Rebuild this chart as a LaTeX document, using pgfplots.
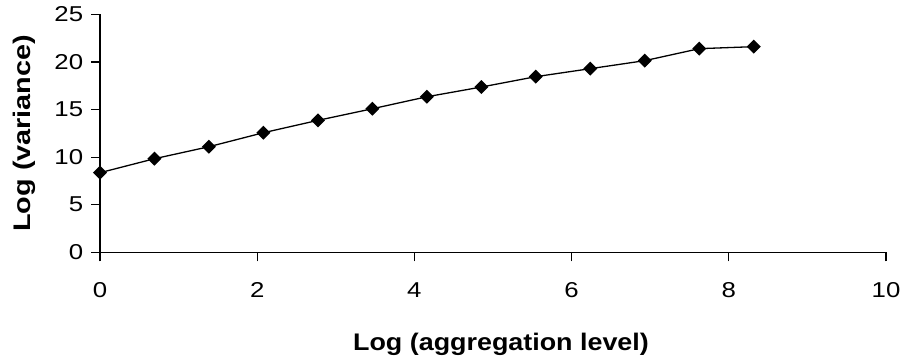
\documentclass[border=0pt]{standalone}
\usepackage{fontspec}
\setmainfont{Liberation Sans}
\usepackage{pgfplots}
\pgfplotsset{compat=1.18}
\begin{document}
\begin{tikzpicture}
\useasboundingbox (-100bp,-103.7bp) rectangle (805bp,252.3bp);
\begin{axis}[
  at={(0,0)}, anchor=south west,
  scale only axis,
  width=786bp, height=238bp,
  xmin=0, xmax=10, ymin=0, ymax=25,
  xtick={0,2,...,10}, ytick={0,5,...,25},
  axis x line*=bottom, axis y line*=left,
  axis line style={line width=1.2bp, -},
  tick style={line width=1.2bp, black},
  tick align=outside,
  major tick length=9bp,
  /pgf/number format/assume math mode=true,
  ticklabel style={font=\fontsize{21.5bp}{24bp}\selectfont, xscale=1.2},
  xticklabel style={yshift=-18bp},
  yticklabel style={xshift=-3bp},
  xlabel={\textbf{Log (aggregation level)}},
  ylabel={\textbf{Log (variance)}},
  label style={font=\fontsize{24bp}{26bp}\selectfont},
  xlabel style={yshift=-28bp, xshift=8bp, xscale=1.12},
  ylabel style={yshift=11bp, xscale=1.2},
]
\addplot[black, line width=1.3bp, mark=square*, mark size=4.3bp, mark options={solid, fill=black, rotate=45}]
coordinates {
(0.000,8.36) (0.693,9.83) (1.386,11.09) (2.079,12.56) (2.773,13.86)
(3.466,15.08) (4.159,16.34) (4.852,17.36) (5.545,18.45) (6.238,19.29)
(6.931,20.13) (7.625,21.39) (8.318,21.60)
};
\end{axis}
\end{tikzpicture}
\end{document}
